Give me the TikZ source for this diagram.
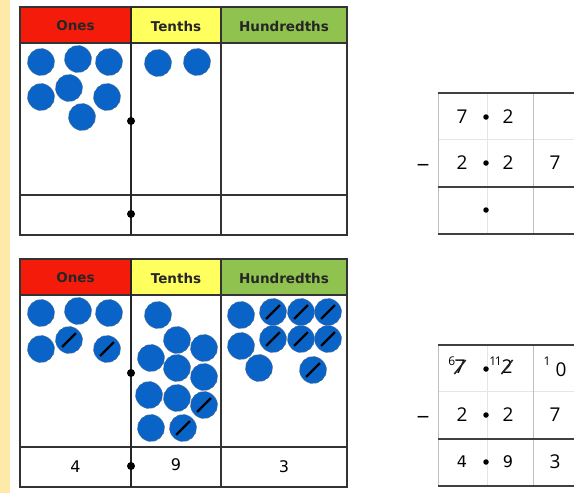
\documentclass[tikz,border=0pt]{standalone}
\usepackage{fontspec}
\setmainfont{DejaVu Sans}
\newfontfamily\digfont{Open Sans}
\usetikzlibrary{positioning}

\definecolor{strip}{HTML}{FFE9A8}
\definecolor{onesred}{HTML}{F51B0B}
\definecolor{tenthsyellow}{HTML}{FFFF5E}
\definecolor{hundgreen}{HTML}{8FC24E}
\definecolor{ctrblue}{HTML}{0A64C8}

\begin{document}
\begin{tikzpicture}[x=1pt, y=-1pt,
    hdr/.style={font=\bfseries\fontsize{13.5}{13.5}\selectfont, text=black!85, inner sep=0pt},
    grid/.style={draw=black!80, line width=1.6pt},
    dec/.style={draw=black!85, line width=2.6pt},
    pt/.style={circle, fill=black, inner sep=0pt, minimum size=8pt},
    ctr/.style={circle, fill=ctrblue, draw=black!55, dashed, line width=0.5pt,
                inner sep=0pt, minimum size=27pt},
    cut/.style={draw=black, line width=2.4pt, shorten <=4pt, shorten >=4pt},
    hand/.style={font=\fontsize{16}{16}\selectfont, inner sep=0pt},
    dig/.style={font=\digfont\fontsize{19}{19}\selectfont, inner sep=0pt},
    sup/.style={font=\digfont\fontsize{12}{12}\selectfont, inner sep=0pt},
    sign/.style={font=\bfseries\fontsize{12}{12}\selectfont, inner sep=0pt},
    dot/.style={circle, fill=black, inner sep=0pt, minimum size=5.5pt},
    rule/.style={draw=black!75, line width=1.8pt},
    faint/.style={draw=black!10, line width=0.8pt},
    thin/.style={draw=black!25, line width=1pt},
    strike/.style={draw=black!85, line width=1.6pt},
]
\useasboundingbox (0,0) rectangle (574,493);
\fill[white] (0,0) rectangle (574,493);
\fill[strip] (0,0) rectangle (10,493);

% place value charts
\foreach \oy/\t in {0/a,252/b}{
  \fill[onesred] (20,7+\oy) rectangle (131,43+\oy);
  \fill[tenthsyellow] (131,7+\oy) rectangle (221,43+\oy);
  \fill[hundgreen] (221,7+\oy) rectangle (347,43+\oy);
  \node[hdr] (ones\t) at (75.5,26+\oy) {Ones};
  \node[hdr] (tenths\t) at (176,26+\oy) {Tenths};
  \node[hdr] (hund\t) at (284,26+\oy) {Hundredths};
  \draw[grid] (20,7+\oy) rectangle (347,235+\oy);
  \draw[grid] (20,43+\oy) -- (347,43+\oy) (20,195+\oy) -- (347,195+\oy)
              (221,7+\oy) -- (221,235+\oy);
  \draw[dec] (131,7+\oy) -- (131,235+\oy);
  \node[pt] (dp\t) at (131,121+\oy) {};
  \node[pt] (dq\t) at (131,214+\oy) {};
}

% counters, first chart
\foreach \x/\y [count=\i] in {41/62,78/59,109/62,41/97,69/88,107/97,82/117,158/63,197/62}
  \node[ctr] (ca\i) at (\x,\y) {};

% counters, second chart
\foreach \x/\y [count=\i] in {41/313,78/311,109/313,41/349,
    158/315,177/340,204/348,151/358,177/368,204/377,149/395,177/398,151/428,
    241/315,241/346,259/368}
  \node[ctr] (cb\i) at (\x,\y) {};
\foreach \x/\y [count=\i] in {69/340,107/349,204/405,183/428,
    273/312,301/312,328/312,273/339,301/339,328/339,313/370}{
  \node[ctr] (cs\i) at (\x,\y) {};
  \draw[cut] (cs\i.-135) -- (cs\i.45);
}

\node[hand] (r4) at (75.5,467) {4};
\node[hand] (r9) at (176,465) {9};
\node[hand] (r3) at (284,467) {3};

% column subtractions
\foreach \oy/\t in {0/a,252/b}{
  \draw[faint] (438,139+\oy) -- (574,139+\oy) (487,93+\oy) -- (487,234+\oy);
  \draw[thin] (438,93+\oy) -- (438,234+\oy) (533,93+\oy) -- (533,234+\oy);
  \draw[rule] (438,93+\oy) -- (574,93+\oy) (438,187+\oy) -- (574,187+\oy)
              (438,234+\oy) -- (574,234+\oy);
  \node[sign] (minus\t) at (423,166+\oy) {—};
  \node[dig] (s1\t) at (462,163+\oy) {2};
  \node[dot] (s2\t) at (486,163+\oy) {};
  \node[dig] (s3\t) at (508,163+\oy) {2};
  \node[dig] (s4\t) at (555,163+\oy) {7};
  \node[dot] (pd\t) at (486,117+\oy) {};
}
\node[dig] (a1) at (462,117) {7};
\node[dig] (a3) at (508,117) {2};
\node[dot] (ad) at (486,210) {};

\node[dig] (b1) at (460,367) {7};
\node[sup, above left=-6pt and -1pt of b1] (b6) {6};
\node[dig] (b3) at (507,367) {2};
\node[sup, above left=-6pt and -0.5pt of b3] (b11) {1\kern-1.5pt1};
\draw[strike] (b1.south west) -- (b1.north east);
\draw[strike] (b3.south west) -- (b3.north east);
\node[sup] (b1a) at (547,361) {1};
\node[dig] (b0) at (561,370) {0};
\node[hand] (b4) at (462,462) {4};
\node[dot] (bd) at (486,462) {};
\node[hand] (b9) at (508,462) {9};
\node[dig] (b3b) at (555,462) {3};
\end{tikzpicture}
\end{document}
